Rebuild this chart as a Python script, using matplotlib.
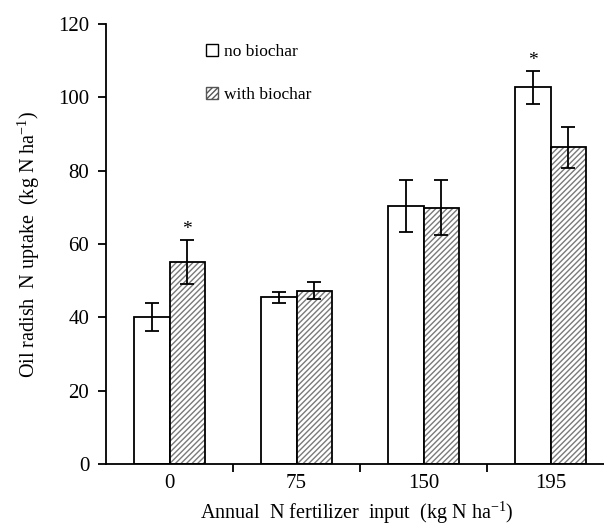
import numpy as np
import matplotlib.pyplot as plt
from matplotlib.patches import Patch

plt.rcParams['font.family'] = ['Liberation Serif', 'DejaVu Serif']
plt.rcParams['font.size'] = 14.5

categories = ['0', '75', '150', '195']
no_biochar = [40.0, 45.5, 70.4, 102.7]
no_biochar_err = [3.8, 1.5, 7.1, 4.5]
with_biochar = [55.1, 47.3, 69.9, 86.4]
with_biochar_err = [6.1, 2.3, 7.5, 5.6]
stars = [(0, 'with'), (3, 'no')]

x = np.arange(len(categories))
w = 0.28

fig = plt.figure(figsize=(6.04, 5.26), dpi=100)
ax = fig.add_axes([0.1755, 0.1179, 0.8245, 0.8365])

ax.bar(x - w / 2, no_biochar, w, color='white', edgecolor='black', linewidth=1.3, zorder=2)
ax.bar(x + w / 2, with_biochar, w, color='white', edgecolor='#7a7a7a', hatch='//////',
       linewidth=0, zorder=2)
ax.bar(x + w / 2, with_biochar, w, fill=False, edgecolor='black', linewidth=1.3, zorder=3)

ax.errorbar(x - w / 2, no_biochar, yerr=no_biochar_err, fmt='none', ecolor='black',
            elinewidth=1.3, capsize=5, capthick=1.3, zorder=4)
ax.errorbar(x + w / 2, with_biochar, yerr=with_biochar_err, fmt='none', ecolor='black',
            elinewidth=1.3, capsize=5, capthick=1.3, zorder=4)

for i, s in stars:
    if s == 'no':
        xs, top = x[i] - w / 2, no_biochar[i] + no_biochar_err[i]
    else:
        xs, top = x[i] + w / 2, with_biochar[i] + with_biochar_err[i]
    ax.text(xs, top + 0.5, '*', ha='center', va='bottom', fontsize=14)

ax.set_xlim(-0.5, 3.42)
ax.set_ylim(0, 120)
ax.set_yticks(range(0, 121, 20))
ax.set_xticks(x[:-1] + 0.5)
ax.set_xticklabels([])
ax.tick_params(axis='x', length=6, width=1.3, direction='out')
ax.tick_params(axis='y', length=6, width=1.3, direction='out', pad=6, labelsize=15)
for i, c in enumerate(categories):
    ax.text(x[i], -2.6, c, ha='center', va='top', fontsize=15)

for side in ['top', 'right']:
    ax.spines[side].set_visible(False)
for side in ['left', 'bottom']:
    ax.spines[side].set_linewidth(1.3)

ax.set_ylabel('Oil radish  N uptake  (kg N ha$^{\\mathregular{-1}}$)', labelpad=12)
fig.text(0.59, 0.013, 'Annual  N fertilizer  input  (kg N ha$^{\\mathregular{-1}}$)',
         ha='center', va='baseline', fontsize=14.5)

handles = [Patch(facecolor='white', edgecolor='black', linewidth=1),
           Patch(facecolor='white', edgecolor='#555555', hatch='//////', linewidth=1)]
ax.legend(handles, ['no biochar', 'with biochar'], frameon=False, loc='upper left',
          bbox_to_anchor=(0.17, 0.99), handlelength=0.7, handleheight=0.7,
          handletextpad=0.3, labelspacing=1.55, fontsize=12.5)

fig.savefig('out.png', dpi=100)
